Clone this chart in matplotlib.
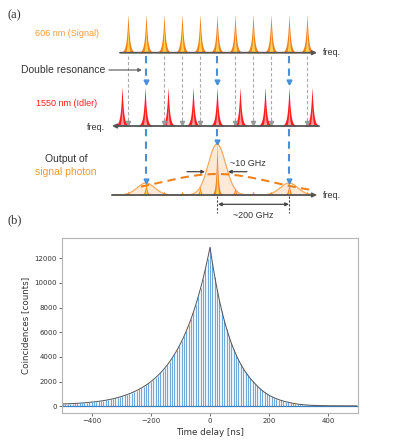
import numpy as np
import matplotlib
matplotlib.use('Agg')
import matplotlib.pyplot as plt

# ---- panel (a): schematic, positions in pixels of the top half ----
signal_x = [128, 146, 164, 182, 200, 217, 235, 253, 271, 289, 307]
idler_x = [122, 145, 168, 193, 217, 240, 265, 289, 312]
resonance_x = [146, 217, 289]
lobe_height = [12, 51, 12]   # output lobes at the resonances
lobe_sigma = 8.7
envelope_height = 21
envelope_sigma = 56

# ---- panel (b): coincidence histogram, 8 ns bins ----
time_ns = np.arange(-496, 497, 8)
counts = [184, 191, 198, 207, 216, 226, 237, 249, 263, 277, 293, 311, 330, 351,
          373, 398, 425, 454, 487, 522, 560,
          602, 648, 699, 753, 811, 874, 942, 1015, 1094, 1179,
          1271, 1369, 1476, 1590, 1714, 1846, 1990, 2144, 2311, 2490,
          2683, 2892, 3116, 3358, 3619, 3900, 4203, 4529, 4881, 5259,
          5668, 6108, 6582, 7093, 7644, 8237, 8876, 9566, 10308, 11108, 11970,
          12900,
          11643, 10508, 9484, 8559, 7725, 6972, 6292, 5679, 5125, 4626, 4175,
          3768, 3400, 3069, 2770, 2500, 2256, 2036, 1838,
          1620, 1440, 1280, 1130, 1000, 880, 780, 690, 610, 540, 470, 415, 365,
          320, 280, 240, 205, 175, 150, 128, 110, 95, 82, 72, 64, 57, 52, 48,
          44, 41, 38,
          36, 35, 34, 33, 32, 31, 30, 30, 29, 29, 28, 28]

ORANGE = '#f39a35'
ORANGE_D = '#f0821e'
YELLOW = '#ffd24d'
RED = '#ff1e1e'
PINK = '#ff9c9c'
BLUE = '#4a90d9'
AXGRAY = '#555555'
SANS = 'Liberation Sans'

fig = plt.figure(figsize=(3.97, 4.40), dpi=100)

ax = fig.add_axes([0, 0.5, 1, 0.5])
ax.set_xlim(0, 397)
ax.set_ylim(220, 0)
ax.axis('off')


def spike(x0, base, h, w, color, z):
    xs = np.linspace(x0 - 5 * w, x0 + 5 * w, 80)
    ys = base - h * np.exp(-np.abs(xs - x0) / w)
    ax.fill_between(xs, base, ys, color=color, lw=0, zorder=z)


def arrow_line(x0, x1, y, color=AXGRAY, lw=1.3, style='-|>', ms=6):
    ax.annotate('', xy=(x1, y), xytext=(x0, y),
                arrowprops=dict(arrowstyle=style, color=color, lw=lw,
                                mutation_scale=ms, shrinkA=0, shrinkB=0),
                zorder=6)


sig_base, idl_base, out_base = 52.7, 126, 195

# signal comb
for x in signal_x:
    spike(x, sig_base, 39.5, 1.6, ORANGE_D, 3)
    spike(x, sig_base, 28, 0.75, YELLOW, 4)
arrow_line(120, 317, sig_base)
ax.text(323, sig_base, 'freq.', fontsize=6.5, family=SANS, color='#333333', va='center')
ax.text(35, 33.5, '606 nm (Signal)', fontsize=6.5, family=SANS, color=ORANGE, va='center')

# idler comb
for x in idler_x:
    spike(x, idl_base, 40, 1.6, RED, 3)
    spike(x, idl_base, 20, 0.75, PINK, 4)
arrow_line(319, 112, idl_base)
ax.text(87, idl_base + 1, 'freq.', fontsize=6.5, family=SANS, color='#333333', va='center')
ax.text(36, 103, '1550 nm (Idler)', fontsize=6.5, family=SANS, color=RED, va='center')

# gray dashed projections
for x in signal_x:
    if min(abs(x - r) for r in resonance_x) < 2:
        continue
    ax.plot([x, x], [56, 121], color='#aaaaaa', lw=0.8, ls=(0, (3, 2)), zorder=2)
    ax.plot(x, 123, marker='v', ms=3, color='#999999', zorder=5)

# blue dashed at double resonances
for x, h in zip(resonance_x, lobe_height):
    ax.plot([x, x], [56, 80], color=BLUE, lw=1.5, ls=(0, (3.5, 2.5)), zorder=5)
    ax.plot(x, 82, marker='v', ms=3.5, color=BLUE, zorder=6)
    tip = out_base - h - 1
    ax.plot([x, x], [129, tip - 3], color=BLUE, lw=1.5, ls=(0, (3.5, 2.5)), zorder=5)
    ax.plot(x, tip - 1, marker='v', ms=3.5, color=BLUE, zorder=7)

ax.text(21, 70, 'Double resonance', fontsize=7.5, family=SANS, color='#333333', va='center')
arrow_line(109, 142, 70, color='#666666', lw=0.9, ms=5)

# output spectrum
xs = np.linspace(112, 316, 600)
for x, h in zip(resonance_x, lobe_height):
    g = out_base - h * np.exp(-(xs - x) ** 2 / (2 * lobe_sigma ** 2))
    mask = np.abs(xs - x) < 4 * lobe_sigma
    ax.fill_between(xs[mask], out_base, g[mask], color='#fde9d6', lw=0, zorder=2)
    ax.plot(xs[mask], g[mask], color='#f5aa5c', lw=0.9, zorder=3)

env_x = np.linspace(141, 312, 200)
env_y = out_base - envelope_height * np.exp(-(env_x - 217) ** 2 / (2 * envelope_sigma ** 2))
ax.plot(env_x, env_y, color=ORANGE_D, lw=1.5, ls=(0, (4, 2.5)), zorder=4)


def lobe_sum(x):
    return sum(h * np.exp(-(x - r) ** 2 / (2 * lobe_sigma ** 2))
               for r, h in zip(resonance_x, lobe_height))


for x in signal_x:
    h = max(lobe_sum(x), 2.5) + 1.5
    spike(x, out_base, h, 1.2, ORANGE_D, 5)
    spike(x, out_base, h * 0.7, 0.55, YELLOW, 5)

arrow_line(112, 317, out_base)
ax.text(323, out_base, 'freq.', fontsize=6.5, family=SANS, color='#333333', va='center')
ax.text(66, 159, 'Output of', fontsize=7.5, family=SANS, color='#333333', ha='center', va='center')
ax.text(66, 172, 'signal photon', fontsize=7.5, family=SANS, color=ORANGE, ha='center', va='center')

# ~10 GHz marker
arrow_line(187, 205, 171.7, color='#444444', lw=0.9, ms=5)
arrow_line(247, 228, 171.7, color='#444444', lw=0.9, ms=5)
ax.text(230, 164, '~10 GHz', fontsize=6.5, family=SANS, color='#333333', va='center')

# ~200 GHz marker
for x in resonance_x[1:]:
    ax.plot([x, x], [196, 213], color='#444444', lw=0.8, ls=(0, (2, 1.5)), zorder=3)
ax.annotate('', xy=(289, 204.3), xytext=(218, 204.3),
            arrowprops=dict(arrowstyle='<|-|>', color='#444444', lw=0.9,
                            mutation_scale=5, shrinkA=0, shrinkB=0))
ax.text(253, 215, '~200 GHz', fontsize=6.4, family=SANS, color='#333333', ha='center', va='center')

ax.text(7, 15, '(a)', fontsize=9, family='Liberation Serif', color='#333333', va='center')
ax.text(7, 220, '(b)', fontsize=9, family='Liberation Serif', color='#333333', va='center')

# ---- panel (b) ----
bx = fig.add_axes([0.156, 0.0614, 0.746, 0.3977])
bx.fill_between(time_ns, counts, color='#eaf2fa', lw=0)
bx.vlines(time_ns, 0, counts, color='#5c9bd3', lw=0.6)
bx.axhline(0, color='#3a7fc0', lw=0.9)
bx.plot(time_ns, counts, color='#555555', lw=0.7)
bx.set_xlim(-500, 500)
bx.set_ylim(-550, 13650)
bx.set_xticks([-400, -200, 0, 200, 400])
bx.set_yticks([0, 2000, 4000, 6000, 8000, 10000, 12000])
bx.tick_params(labelsize=5, length=2, width=0.6, color='#555555', labelcolor='#333333', pad=1.5)
for s in bx.spines.values():
    s.set_color('#b5b5b5')
    s.set_linewidth(0.8)
bx.set_xlabel('Time delay [ns]', fontsize=6.3, color='#333333', labelpad=3)
bx.set_ylabel('Coincidences [counts]', fontsize=6.3, color='#333333', labelpad=3)

fig.savefig('out.png', dpi=100)
